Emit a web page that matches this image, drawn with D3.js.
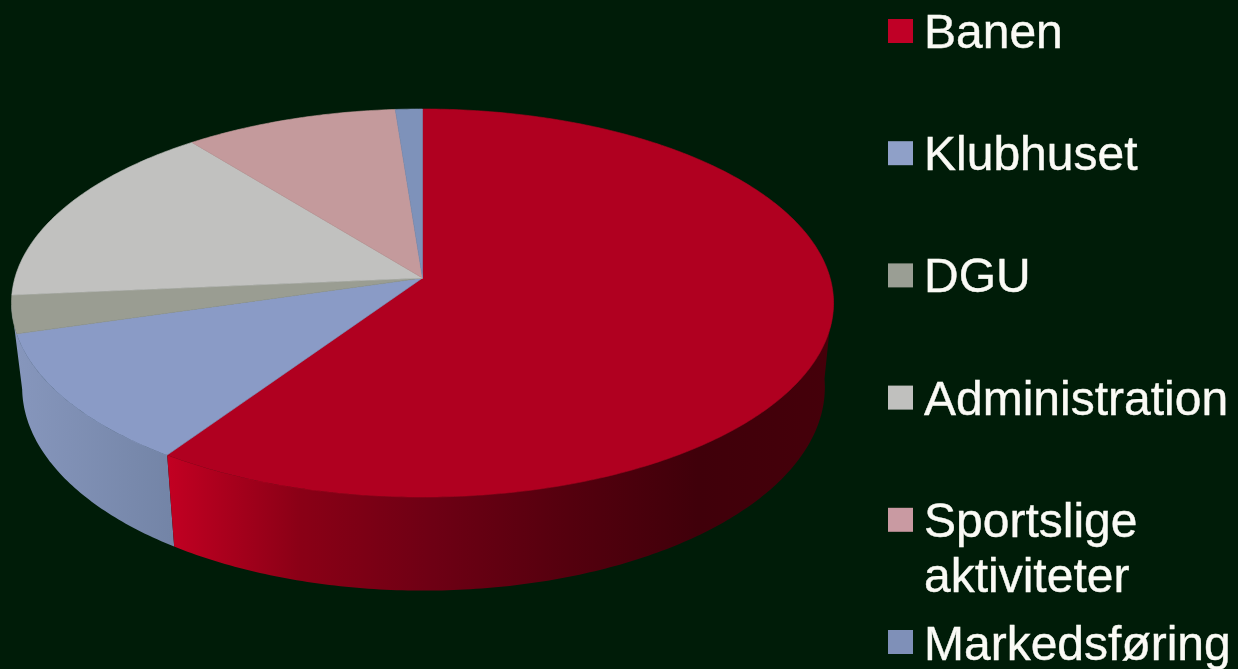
<!DOCTYPE html>
<html><head><meta charset="utf-8">
<script src="https://cdn.jsdelivr.net/npm/d3@7"></script>
<style>
html,body{margin:0;padding:0;background:#001c08;overflow:hidden}
svg{display:block;filter:blur(0.5px)}
text{font-family:"Liberation Sans",Arial,sans-serif;font-size:48px;fill:#fafaf5;stroke:#fafaf5;stroke-width:0.4px}
</style></head><body>
<svg id="c" width="1238" height="669"></svg>
<script>
const categories=["Banen","Klubhuset","DGU","Administration","Sportslige aktiviteter","Markedsføring"];
const shares=[59.45,11.0,3.15,15.7,9.5,1.2];
const faceColors=["#b00020","#8a9bc6","#9a9d92","#c1c1bf","#c49a9c","#7e92ba"];
const legendColors=["#c00026","#8fa0c8","#9a9e94","#c0c0be","#c99aa2","#7f90b8"];
const redSideStops=["#c20022","#8a0016","#6e0014","#55000e","#40000a","#45000a"];
const blueSideStops=["#8696bc","#7384a6"];

const W=1238,H=669;
const svg=d3.select("#c");
svg.append("rect").attr("width",W).attr("height",H).attr("fill","#001c08");

// perspective projection of the unit disc: a = clockwise angle from the far side
const q=0.129;
function projector(cx,cy,R,K){
  return a=>{const u=Math.sin(a),v=-Math.cos(a),w=1-q*v;return [cx+R*u/w,cy+K*v/w];};
}
const topP=projector(422.5,278,407.6,190.8);
const botP=projector(423.5,361,398,200);
const line=d3.line();
const rad=d3.scaleLinear().domain([0,360]).range([0,2*Math.PI]);
const samples=(a,b)=>{const n=Math.max(2,Math.ceil(Math.abs(b-a)*80));return d3.range(n+1).map(i=>a+(b-a)*i/n);};

const arcs=d3.pie().sort(null).value(d=>d)(shares);

const defs=svg.append("defs");
function grad(id,x1,x2,stops){
  const g=defs.append("linearGradient").attr("id",id).attr("gradientUnits","userSpaceOnUse")
    .attr("x1",x1).attr("x2",x2).attr("y1",0).attr("y2",0);
  stops.forEach((c,i)=>g.append("stop").attr("offset",i/(stops.length-1)).attr("stop-color",c));
}
grad("redSide",168,830,redSideStops);
grad("blueSide",18,175,blueSideStops);

// side wall: Banen and Klubhuset are the only slices with a visible wall
const g=svg.append("g");
const wall=(a,b,fill)=>{
  const t=samples(a,b);
  g.append("path").attr("d",line(t.map(topP).concat(t.slice().reverse().map(botP)))+"Z").attr("fill",fill);
};
wall(arcs[1].startAngle,rad(262),"url(#blueSide)");
wall(rad(95),arcs[0].endAngle,"url(#redSide)");

// top face; a hairline of the slice's own colour closes the seams between slices
g.selectAll("path.face").data(arcs).join("path").attr("class","face")
  .attr("fill",(d,i)=>faceColors[i])
  .attr("stroke",(d,i)=>faceColors[i]).attr("stroke-width",0.6)
  .attr("d",d=>{const pts=samples(d.startAngle,d.endAngle).map(topP);pts.push([422.5,278]);return line(pts)+"Z";});

// legend
const yL=d3.scaleLinear().domain([0,categories.length-1]).range([31,642]);
const lg=svg.append("g");
categories.forEach((c,i)=>{
  lg.append("rect").attr("x",888).attr("y",yL(i)-12).attr("width",25).attr("height",24).attr("fill",legendColors[i]);
  const words=i===4?c.split(" "):[c];
  const t=lg.append("text").attr("y",yL(i)+17+(i===5?1:0));
  words.forEach((w,k)=>t.append("tspan").attr("x",924).attr("dy",k?55:0).text(w));
});
</script></body></html>
